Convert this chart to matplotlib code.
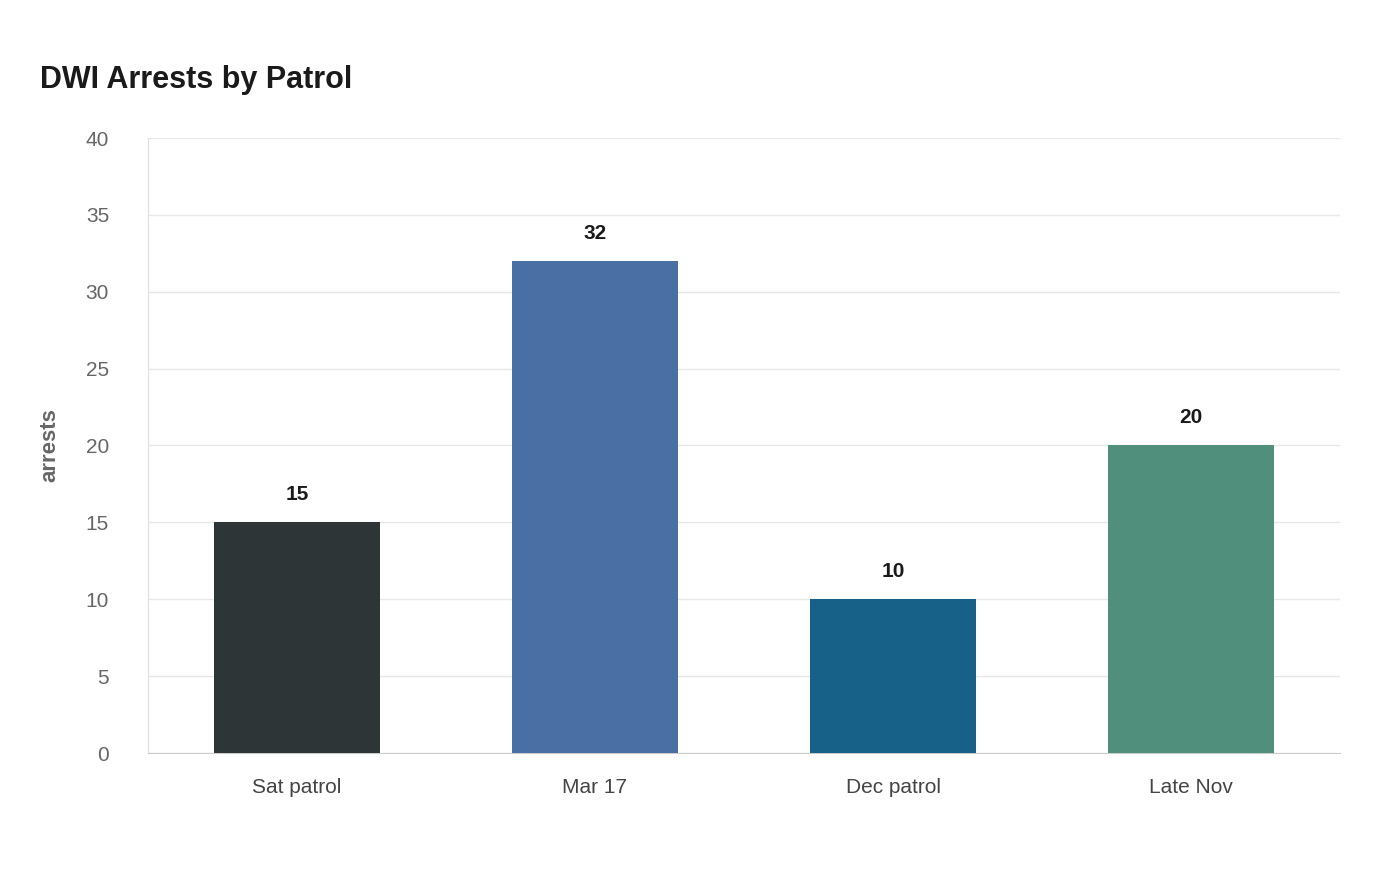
import matplotlib
matplotlib.use("Agg")
import matplotlib.pyplot as plt

categories = ["Sat patrol", "Mar 17", "Dec patrol", "Late Nov"]
values = [15, 32, 10, 20]
colors = ["#2e3537", "#4a6fa5", "#176087", "#4f8f7b"]
yticks = [0, 5, 10, 15, 20, 25, 30, 35, 40]

plt.rcParams['font.family'] = ['Liberation Sans', 'DejaVu Sans']
fig = plt.figure(figsize=(14, 8.8), dpi=100)
ax = fig.add_axes([148/1400, 1-753/880, (1340-148)/1400, (753-138)/880])
x = list(range(len(categories)))
ax.bar(x, values, width=0.555, color=colors, zorder=3)
for xi, v in zip(x, values):
    ax.text(xi, v + 1.2, str(v), ha='center', va='bottom', fontsize=15, fontweight='bold', color='#1a1a1a')
ax.set_xlim(-0.5, len(categories) - 0.5)
ax.set_ylim(0, 40)
ax.set_yticks(yticks)
ax.set_xticks(x)
ax.set_xticklabels(categories, fontsize=15, color='#444444')
ax.tick_params(axis='y', labelsize=15, colors='#666666', length=0, pad=28)
ax.tick_params(axis='x', length=0, pad=18)
ax.grid(axis='y', color='#e8e8e8', linewidth=1, zorder=0)
for s in ['top', 'right']:
    ax.spines[s].set_visible(False)
ax.spines['left'].set_color('#e0e0e0')
ax.spines['bottom'].set_color('#cccccc')
ax.set_ylabel('arrests', fontsize=16, fontweight='bold', color='#666666', labelpad=18)
fig.text(40/1400, 1-80/880, 'DWI Arrests by Patrol', fontsize=22, fontweight='bold', color='#1a1a1a', va='center', ha='left')
fig.savefig('out.png', dpi=100, facecolor='white')
